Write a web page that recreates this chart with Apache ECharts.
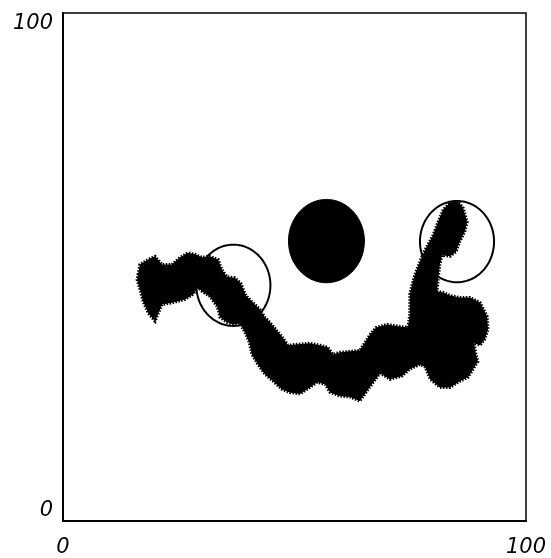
<!DOCTYPE html>
<html>
<head>
<meta charset="utf-8">
<script src="https://cdn.jsdelivr.net/npm/echarts@6/dist/echarts.min.js"></script>
<style>html,body{margin:0;padding:0;background:#fff;}#c{width:551px;height:558px;}</style>
</head>
<body>
<div id="c"></div>
<script>
// Axis ticks
const xTicks = [0, 100];
const yTicks = [0, 100];

// Filled disc: [centerX, centerY, radius] (data units)
const discs = [[56.9, 55.1, 8.2]];
// Open circles: [centerX, centerY, radius]
const rings = [[36.8, 46.4, 8.0], [85.1, 55.0, 8.0]];

// Outline of the random-walk cloud (data units)
const blobX = [16.2,16.6,18.4,19.9,21.4,23.5,25.3,27.0,28.5,30.0,31.7,33.5,34.3,35.4,37.1,38.4,39.5,40.8,42.5,43.6,44.7,46.0,47.3,48.6,50.8,53.3,55.5,57.2,58.3,59.8,62.0,64.1,65.4,66.3,67.6,70.0,72.8,74.5,74.9,74.9,75.4,76.0,77.1,78.2,79.9,81.0,82.1,83.6,85.3,86.4,87.3,86.8,85.7,84.9,83.6,81.9,81.4,81.0,80.8,82.1,83.6,85.7,87.9,90.1,91.6,91.8,91.1,90.1,88.8,89.2,89.6,88.6,87.5,85.7,83.6,81.4,79.3,78.2,77.1,74.9,73.2,70.6,68.5,66.7,65.2,64.1,62.0,59.8,57.7,56.6,54.9,53.3,51.2,49.0,47.3,45.4,43.6,42.1,40.8,40.2,39.3,38.2,36.7,35.4,33.9,33.3,31.7,30.0,29.2,28.1,26.3,23.8,21.4,20.5,19.9,18.4,17.3,16.6,16.0];
const blobY = [48.5,50.5,51.5,52.1,50.5,50.5,51.9,52.8,52.5,51.9,52.1,51.5,49.5,48.1,47.9,46.8,44.4,43.2,41.7,40.1,39.1,37.7,36.3,34.6,34.8,35.0,34.6,34.2,32.8,33.2,33.4,33.6,35.4,36.7,38.1,38.7,38.3,38.1,40.7,44.6,46.6,48.5,51.1,53.4,56.2,58.9,61.3,62.7,62.9,61.7,58.9,57.0,55.0,53.0,52.1,52.3,50.5,47.5,45.2,45.0,44.4,44.0,44.0,43.0,40.3,37.7,35.8,34.6,35.0,32.8,31.4,29.9,28.3,27.5,26.3,26.3,27.9,30.3,30.8,29.9,28.5,27.9,29.1,26.9,25.0,23.6,24.4,24.6,25.3,26.9,27.3,26.3,25.0,25.3,25.9,27.5,28.9,30.8,32.8,35.2,37.1,38.9,38.7,39.1,40.1,42.2,44.2,45.2,46.0,44.6,43.6,43.0,42.6,40.7,39.3,40.9,43.2,45.6,47.5];

const chart = echarts.init(document.getElementById('c'), null, {renderer: 'canvas'});

function circlePoints(api, cx, cy, r) {
  const pts = [];
  for (let k = 0; k < 120; k++) {
    const a = k / 120 * Math.PI * 2;
    pts.push(api.coord([cx + r * Math.cos(a), cy + r * Math.sin(a)]));
  }
  return pts;
}

const labelFont = {fontFamily: 'DejaVu Sans', fontStyle: 'italic', fontSize: 21, color: '#000'};

chart.setOption({
  animation: false,
  backgroundColor: '#fff',
  grid: {left: 63, right: 25, top: 13, bottom: 36, show: true, borderColor: '#000', borderWidth: 1.5, backgroundColor: 'transparent'},
  xAxis: {
    type: 'value', min: xTicks[0], max: xTicks[1], interval: 100,
    axisLine: {show: true, onZero: false, lineStyle: {color: '#000', width: 2}},
    axisTick: {show: false}, splitLine: {show: false},
    axisLabel: Object.assign({margin: 16}, labelFont)
  },
  yAxis: {
    type: 'value', min: yTicks[0], max: yTicks[1], interval: 100,
    axisLine: {show: true, onZero: false, lineStyle: {color: '#000', width: 2}},
    axisTick: {show: false}, splitLine: {show: false},
    axisLabel: Object.assign({margin: 10, verticalAlignMinLabel: 'bottom', verticalAlignMaxLabel: 'top'}, labelFont)
  },
  series: [
    {
      type: 'custom',
      data: blobX.map((x, i) => [x, blobY[i]]),
      renderItem: function (params, api) {
        if (params.dataIndex !== 0) return null;
        const pts = blobX.map((x, i) => api.coord([x, blobY[i]]));
        return {type: 'polygon', shape: {points: pts}, style: {fill: '#000', stroke: '#000', lineWidth: 3, lineDash: [1.5, 1.5]}};
      }
    },
    {
      type: 'custom',
      data: discs,
      renderItem: function (params, api) {
        const pts = circlePoints(api, api.value(0), api.value(1), api.value(2));
        return {type: 'polygon', shape: {points: pts}, style: {fill: '#000', stroke: '#000', lineWidth: 1}};
      }
    },
    {
      type: 'custom',
      data: rings,
      renderItem: function (params, api) {
        const pts = circlePoints(api, api.value(0), api.value(1), api.value(2));
        return {type: 'polygon', shape: {points: pts}, style: {fill: 'none', stroke: '#000', lineWidth: 2}};
      }
    }
  ]
});
</script>
</body>
</html>
